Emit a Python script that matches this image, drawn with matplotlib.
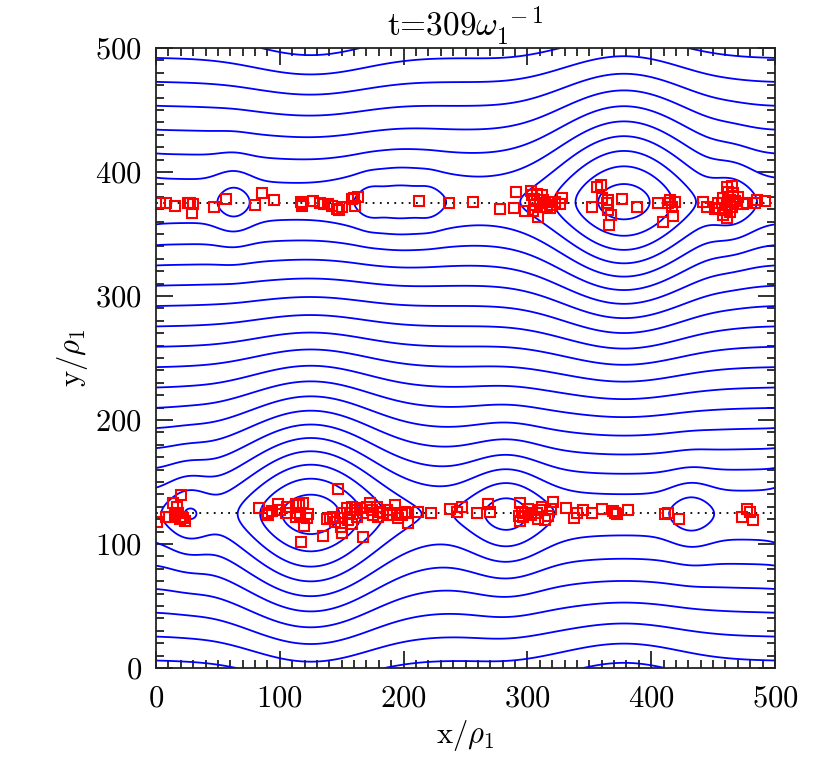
import numpy as np
import matplotlib
matplotlib.use("Agg")
import matplotlib.pyplot as plt
from matplotlib.ticker import MultipleLocator

# ---- sheet / island parameters ----
sheet_y = [125.0, 375.0]
sheet_sign = [-1.0, 1.0]
low_x = [26, 125, 283, 432]
low_amp = [20, 65, 30, 17]
low_sx = [13, 40, 22, 13]
low_ly = [20, 60, 30, 16]
up_x = [63, 172, 196, 221, 378, 466]
up_amp = [16, 7, 16, 6, 65, 17]
up_sx = [11, 7, 28, 7, 40, 13]
up_ly = [16, 10, 22, 10, 60, 20]
lam = 12.0
b_inner = 1.0
b_outer = 0.85
level_step = 16.5

# ---- particles (red squares) ----
px_up = [3.2, 8.1, 15.3, 25.6, 27.5, 29.6, 28.8, 47.1, 56.5, 80.0, 85.4, 95.3, 116.9, 117.7, 117.7,
         127.1, 132.5, 135.7, 138.7, 141.9, 146.0, 148.1, 150.0, 158.1, 159.9, 163.4, 160.8, 212.7,
         236.9, 256.3, 277.9, 289.4, 290.6, 298.1, 302.9, 303.5, 305.3, 307.5, 311.6, 312.9, 316.9,
         319.6, 315.6, 322.3, 326.4, 327.7, 306.2, 304.8, 308.8, 310.2, 318.3, 356.0, 359.2, 360.0,
         365.4, 364.1, 365.4, 367.3, 365.9, 352.5, 376.2, 388.8, 405.8, 415.2, 419.2, 413.8, 416.5,
         417.9, 409.8, 442.1, 444.9, 451.6, 461.0, 465.1, 462.4, 466.4, 458.3, 463.7, 467.7, 457.0,
         461.0, 465.1, 469.1, 459.6, 463.7, 458.3, 461.0, 455.0, 453.6, 470.3, 474.4, 477.6, 483.9,
         485.7, 492.0]
py_up = [374.8, 375.3, 372.9, 375.0, 375.0, 374.2, 367.2, 371.6, 378.0, 373.4, 382.8, 377.7, 376.1,
         374.2, 372.9, 376.9, 374.8, 374.2, 374.0, 372.6, 369.9, 369.4, 371.6, 378.0, 378.8, 379.6,
         372.6, 376.6, 375.3, 376.1, 369.9, 371.2, 383.6, 368.8, 384.9, 381.5, 378.0, 382.3, 381.5,
         377.4, 376.1, 373.4, 372.0, 376.1, 374.2, 379.3, 373.4, 368.8, 363.9, 374.8, 370.7, 387.7,
         389.5, 378.8, 377.4, 374.8, 369.4, 365.3, 357.3, 371.6, 378.0, 371.6, 375.3, 377.4, 376.1,
         374.8, 371.6, 364.6, 360.0, 376.1, 372.0, 369.9, 387.7, 388.7, 384.1, 383.3, 378.8, 377.4,
         376.9, 374.8, 373.4, 372.0, 374.2, 369.4, 368.0, 365.3, 362.7, 370.7, 374.8, 380.1, 374.2,
         374.8, 374.8, 377.4, 376.9]
px_low = [0.5, 8.1, 10.7, 14.0, 16.7, 20.0, 15.3, 18.0, 20.8, 22.1, 23.4, 19.4, 83.5, 89.4, 90.7,
          93.4, 98.8, 100.2, 105.6, 105.0, 113.1, 115.8, 118.5, 113.7, 116.3, 113.1, 123.0, 121.7,
          119.6, 117.1, 147.3, 135.1, 137.9, 140.6, 143.2, 144.6, 148.6, 150.0, 149.2, 150.0, 154.0,
          156.7, 158.1, 160.8, 162.1, 164.8, 167.5, 170.2, 172.9, 174.2, 175.6, 178.3, 179.6, 181.0,
          183.6, 155.3, 158.1, 167.5, 186.4, 189.0, 193.1, 194.4, 195.7, 198.5, 202.5, 203.8, 201.1,
          211.9, 222.1, 237.5, 242.9, 246.9, 259.6, 268.4, 269.8, 294.0, 295.4, 293.5, 294.0, 298.1,
          300.8, 302.7, 307.5, 308.8, 310.2, 311.6, 314.2, 316.9, 318.8, 320.9, 296.8, 331.2, 337.7,
          339.8, 345.2, 351.9, 360.0, 369.4, 370.8, 372.2, 381.5, 411.2, 413.8, 422.7, 473.1, 477.6,
          479.8, 482.5]
py_low = [118.0, 121.5, 122.0, 133.3, 130.1, 139.5, 123.4, 124.8, 122.0, 120.8, 118.8, 119.9, 129.3,
          125.3, 123.4, 126.9, 132.3, 127.4, 129.6, 125.3, 132.3, 131.5, 132.8, 124.8, 123.4, 122.0,
          124.2, 120.8, 114.5, 101.9, 144.4, 106.5, 119.9, 120.8, 122.0, 118.0, 120.8, 124.8, 114.0,
          109.1, 128.8, 124.8, 130.1, 127.4, 122.0, 128.8, 124.8, 130.1, 132.8, 127.4, 123.4, 130.1,
          122.0, 126.1, 124.8, 119.4, 116.1, 105.4, 127.4, 123.4, 131.5, 124.8, 120.8, 123.4, 124.8,
          116.7, 126.1, 126.1, 124.8, 128.0, 126.1, 130.1, 125.3, 132.3, 126.1, 133.3, 126.1, 122.6,
          118.8, 124.8, 128.0, 123.4, 125.3, 119.9, 127.4, 130.1, 119.4, 122.6, 128.0, 134.1, 121.5,
          128.8, 120.8, 125.3, 127.4, 125.3, 128.0, 126.9, 124.8, 124.2, 127.4, 124.2, 125.3, 119.9,
          121.5, 128.0, 126.1, 119.4]

L = 500.0


def wrap(d):
    return (d + L / 2) % L - L / 2


def flux(X, Y):
    a = (b_inner + b_outer) / 2
    psi = (a * lam * np.log(np.cosh((Y - 125) / lam)) - a * lam * np.log(np.cosh((Y - 375) / lam))
           - b_outer * (Y - 250))
    groups = [(low_x, low_amp, low_sx, low_ly, sheet_y[0], sheet_sign[0]),
              (up_x, up_amp, up_sx, up_ly, sheet_y[1], sheet_sign[1])]
    for xs, amps, sxs, lys, yc, sg in groups:
        for xk, amp, sx, ly in zip(xs, amps, sxs, lys):
            dx = wrap(X - xk)
            dy = wrap(Y - yc)
            psi = psi + sg * amp * np.exp(-dx ** 2 / (2 * sx ** 2)) / np.cosh(dy / ly)
    return psi


plt.rcParams['font.family'] = ['cmr10', 'DejaVu Serif']
plt.rcParams['mathtext.fontset'] = 'cm'
plt.rcParams['axes.formatter.use_mathtext'] = True
plt.rcParams['contour.negative_linestyle'] = 'solid'

fig = plt.figure(figsize=(8.30, 7.67), dpi=100)
ax = fig.add_axes([156 / 830, 1 - 668 / 767, 619 / 830, 620 / 767])

xg = np.linspace(0, 500, 801)
yg = np.linspace(0, 500, 801)
X, Y = np.meshgrid(xg, yg)
P = flux(X, Y)
ref = flux(np.array(0.0), np.array(492.0))
lv = ref + level_step * np.arange(-40, 41)
lv = lv[(lv > P.min()) & (lv < P.max())]
ax.contour(X, Y, P, levels=lv, colors='#0000ff', linewidths=1.3, linestyles='solid')

for ys in sheet_y:
    ax.plot([0, 500], [ys, ys], color='black', linestyle=(0, (1, 3)), linewidth=1.3)

ax.plot(px_up + px_low, py_up + py_low, linestyle='none', marker='s', markersize=7.5,
        markerfacecolor='none', markeredgecolor='#ff0000', markeredgewidth=1.5)

ax.set_xlim(0, 500)
ax.set_ylim(0, 500)
ax.xaxis.set_major_locator(MultipleLocator(100))
ax.yaxis.set_major_locator(MultipleLocator(100))
ax.xaxis.set_minor_locator(MultipleLocator(10))
ax.yaxis.set_minor_locator(MultipleLocator(10))
ax.tick_params(which='both', direction='in', top=True, right=True, width=1.3, colors='#222222',
               labelcolor='black', labelsize=22)
ax.tick_params(which='major', length=12)
ax.tick_params(axis='x', which='major', pad=12)
ax.tick_params(axis='y', which='major', pad=10)
ax.tick_params(which='minor', length=6)
for s in ax.spines.values():
    s.set_linewidth(1.3)
    s.set_color('#222222')

fig.canvas.draw()
yl = ax.get_yticklabels()
yl[0].set_verticalalignment('bottom')
yl[-1].set_verticalalignment('top')

ax.set_xlabel(r'x/$\rho_1$', fontsize=22, labelpad=4)
ax.set_ylabel(r'y/$\rho_1$', fontsize=22, labelpad=4)
ax.set_title(r't=309$\omega_1^{\ -1}$', fontsize=24, pad=8)

fig.savefig('out.png', dpi=100)
